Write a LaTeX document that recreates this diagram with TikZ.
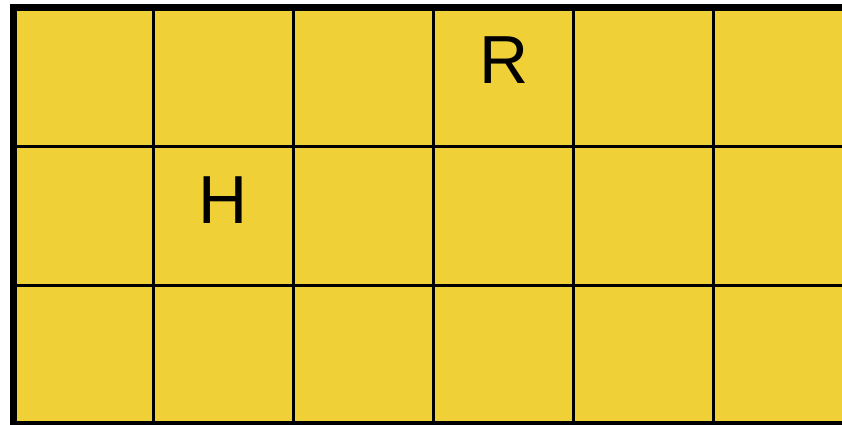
\documentclass[tikz,border=0pt]{standalone}
\usepackage{fontspec}
\setmainfont{Liberation Sans}
\definecolor{cellyellow}{RGB}{239,208,54}
\begin{document}
\begin{tikzpicture}[x=1pt,y=-1pt,
  gridline/.style={line width=3pt,black},
  frameline/.style={line width=7pt,black},
  letter/.style={font=\fontsize{68}{68}\selectfont,inner sep=0pt,anchor=base}]
\useasboundingbox (0,0) rectangle (842,424);
\begin{scope}
\clip (0,0) rectangle (842,424);
\fill[cellyellow] (13.5,7.5) rectangle (860,424.5);
\foreach \x in {153,293,433,573,713} \draw[gridline] (\x,7.5) -- (\x,424.5);
\foreach \y in {146.5,285.5} \draw[gridline] (13.5,\y) -- (860,\y);
\draw[frameline] (860,7.5) -- (13.5,7.5) -- (13.5,424.5) -- (860,424.5);
\end{scope}
\node[letter] (R) at (504.5,83) {R};
\node[letter] (H) at (223,223) {H};
\end{tikzpicture}
\end{document}
